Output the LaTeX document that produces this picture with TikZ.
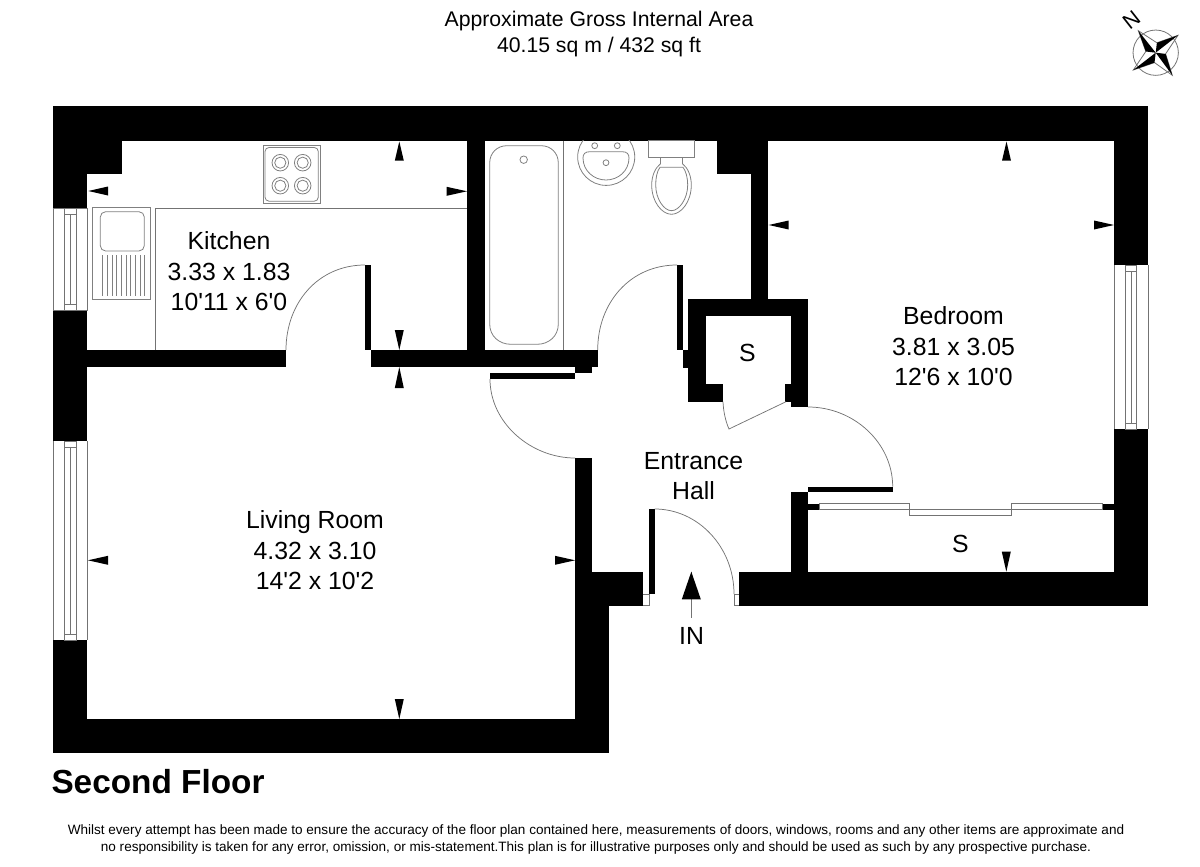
\documentclass[tikz,border=0pt]{standalone}
\usepackage{fontspec}
\setmainfont{Liberation Sans}
\newfontfamily\plainsans{Liberation Sans}
\newcommand{\wallrect}[4]{\fill[black] (#1,#2) rectangle (#3,#4);}
\tikzset{
  thinline/.style={draw=black!55,line width=0.6pt},
  arcline/.style={draw=black!55,line width=0.55pt},
  fixture/.style={draw=black!50,line width=0.6pt,fill=none},
  roomtext/.style={anchor=base,font=\plainsans\fontsize{18.6}{20}\selectfont,inner sep=0pt},
  titletext/.style={anchor=base,font=\plainsans\fontsize{15.9}{18}\selectfont,inner sep=0pt},
  foottext/.style={anchor=base,font=\plainsans\fontsize{10.16}{12}\selectfont,inner sep=0pt},
  floortext/.style={anchor=base,font=\fontsize{25}{28}\selectfont\bfseries,inner sep=0pt},
  dimmark/.style={fill=black,draw=none}
}
\begin{document}
\begin{tikzpicture}[x=0.75pt,y=-0.75pt]
\useasboundingbox (0,0) rectangle (1200,867);
% ---------- walls
\wallrect{53}{106}{1148}{140.6}
\wallrect{53}{106}{87}{208}
\wallrect{53}{106}{121.7}{174}
\wallrect{53}{310.7}{87}{441}
\wallrect{87}{350}{286}{367}
\wallrect{53}{640}{87}{753}
\wallrect{53}{719}{609}{753}
\wallrect{575}{572}{609}{753}
\wallrect{575}{458}{592}{606}
\wallrect{575}{571.7}{643}{605.7}
\wallrect{467}{140}{484.7}{350}
\wallrect{370.7}{350}{597.7}{367}
\wallrect{575}{367}{592}{373.3}
\wallrect{490}{373.3}{575}{379}
\wallrect{365}{265}{371}{350}
\wallrect{677}{265}{683}{350}
\wallrect{683}{350}{705.7}{367.7}
\wallrect{716.7}{140}{768}{174}
\wallrect{750.7}{140}{768}{299}
\wallrect{1114}{140}{1148}{265}
\wallrect{1114}{429}{1148}{606}
\wallrect{739.3}{571.7}{1148}{606}
\wallrect{688.3}{299}{808}{316}
\wallrect{688.3}{299}{705.7}{401.7}
\wallrect{688.3}{384}{723}{401.7}
\wallrect{790.7}{299}{808}{407}
\wallrect{785}{384}{791}{401.7}
\wallrect{790.7}{492}{808}{572}
\wallrect{808}{486.7}{892.7}{492.3}
\wallrect{808}{503.7}{819.3}{509.7}
\wallrect{1102.7}{503.7}{1114.3}{509.7}
\wallrect{649}{509}{654.7}{594.3}
% ---------- kitchen fittings
\draw[thinline] (155.3,350) -- (155.3,208.3) -- (467,208.3);
\draw[fixture] (263.3,145.7) rectangle (320,203);
\draw[fixture,rounded corners=3pt] (265,147.5) rectangle (318.3,201.2);
\foreach \bx/\by in {280.3/162.7,302.7/162.7,280.3/185.7,302.7/185.7}{
  \draw[fixture] (\bx,\by) circle[radius=6.2pt];
  \draw[fixture] (\bx,\by) circle[radius=4.2pt];
}
\draw[fixture] (92.3,207.3) rectangle (150,299.3);
\draw[fixture,rounded corners=4pt] (100.3,211.7) rectangle (144.3,251);
\foreach \dx in {102.5,107.2,...,146}{\draw[fixture] (\dx,255) -- (\dx,296);}
% ---------- bathroom fittings
\draw[thinline] (563.3,140.6) -- (563.3,350);
\draw[fixture] (507,145.7) -- (541,145.7) .. controls (551,145.7) and (558.3,153) .. (558.3,163)
  -- (558.3,324) .. controls (558.3,336) and (549,344.3) .. (537,344.3)
  -- (511,344.3) .. controls (499,344.3) and (489.7,336) .. (489.7,324)
  -- (489.7,163) .. controls (489.7,153) and (497,145.7) .. (507,145.7) -- cycle;
\draw[fixture] (523.7,159.7) circle[radius=2.8pt];
\begin{scope}
\clip (570,140.6) rectangle (640,190);
\draw[fixture] (606.2,157) ellipse[x radius=21.4pt,y radius=21.3pt];
\end{scope}
\draw[fixture] (590,151.7) -- (622,151.7) .. controls (627,151.7) and (629,154) .. (629,158)
  .. controls (629,171) and (618,180) .. (606,180)
  .. controls (594,180) and (583,171) .. (583,158)
  .. controls (583,154) and (585,151.7) .. (590,151.7) -- cycle;
\draw[fixture] (594.7,145.7) circle[radius=2.2pt];
\draw[fixture] (617.3,145.7) circle[radius=2.2pt];
\draw[fixture] (606,162.7) circle[radius=2.2pt];
\draw[fixture] (648.3,140.6) rectangle (694.7,157.3);
\draw[fixture] (660.7,157.3) -- (660.7,163.5);
\draw[fixture] (682.3,157.3) -- (682.3,163.5);
\draw[fixture] (660.7,163.5) .. controls (655,168) and (651.7,176) .. (651.7,185)
  .. controls (651.7,202) and (662,214.3) .. (671.5,214.3)
  .. controls (681,214.3) and (691.3,202) .. (691.3,185)
  .. controls (691.3,176) and (688,168) .. (682.3,163.5);
\draw[fixture] (660,167.3) -- (683,167.3) .. controls (686,171) and (687.7,178) .. (687.7,185)
  .. controls (687.7,199) and (679,210.7) .. (671.5,210.7)
  .. controls (664,210.7) and (655.7,199) .. (655.7,185)
  .. controls (655.7,178) and (657,171) .. (660,167.3) -- cycle;
% ---------- windows
\draw[thinline] (53,208) -- (53,310.7) (87,208) -- (87,310.7) (53,208) -- (87,208) (53,310.7) -- (87,310.7);
\draw[thinline] (64.3,208) rectangle (76,310.7);
\draw[thinline] (70.7,214) -- (70.7,304.7) (64.3,214) -- (76,214) (64.3,304.7) -- (76,304.7);
\draw[thinline] (53,441) -- (53,640) (87,441) -- (87,640);
\draw[thinline] (64.3,441) rectangle (76,640);
\draw[thinline] (70.7,447) -- (70.7,634) (64.3,447) -- (76,447) (64.3,634) -- (76,634);
\draw[thinline] (1114,265) -- (1114,429) (1148,265) -- (1148,429);
\draw[thinline] (1125,265) rectangle (1136.7,429);
\draw[thinline] (1131,271) -- (1131,423) (1125,271) -- (1136.7,271) (1125,423) -- (1136.7,423);
% ---------- doors
\draw[arcline] (286,350) .. controls (286,303) and (318,265) .. (365,265);
\draw[arcline] (597.7,350) .. controls (597.7,303) and (630,265) .. (677,265);
\draw[arcline] (490,379) .. controls (490,423) and (531,458) .. (575,458);
\draw[arcline] (654.7,509) .. controls (698,509) and (734,547) .. (734,594);
\draw[arcline] (808,407) .. controls (854,407) and (892.7,443) .. (892.7,486.7);
\draw[arcline] (723,401.7) .. controls (723.5,412) and (725.5,421) .. (729,429) -- (786,401.7);
\draw[thinline] (643,594) -- (649,594) -- (649,605.7) -- (643,605.7);
\draw[thinline] (739.3,594) -- (734,594) -- (734,605.7) -- (739.3,605.7);
% ---------- sliding wardrobe doors
\draw[thinline] (819.3,503.5) rectangle (909.3,509.5);
\draw[thinline] (909.3,509.5) rectangle (1011.7,515.3);
\draw[thinline] (1011.7,503.5) rectangle (1102.7,509.5);
% ---------- dimension marks
\fill[dimmark] (88.3,191) -- (108,186.5) -- (108,195.5) -- cycle;
\fill[dimmark] (399.3,141.5) -- (394.8,160.7) -- (403.8,160.7) -- cycle;
\fill[dimmark] (467,191.3) -- (446.7,186.8) -- (446.7,195.8) -- cycle;
\fill[dimmark] (399.3,350) -- (394.8,330) -- (403.8,330) -- cycle;
\fill[dimmark] (399.3,367) -- (394.8,388) -- (403.8,388) -- cycle;
\fill[dimmark] (88,560.3) -- (108,555.8) -- (108,564.8) -- cycle;
\fill[dimmark] (575,560.3) -- (555,555.8) -- (555,564.8) -- cycle;
\fill[dimmark] (399.3,719) -- (394.8,699) -- (403.8,699) -- cycle;
\fill[dimmark] (1006.5,141.5) -- (1002,160.7) -- (1011,160.7) -- cycle;
\fill[dimmark] (768.7,225) -- (788.7,220.5) -- (788.7,229.5) -- cycle;
\fill[dimmark] (1114,225) -- (1094,220.5) -- (1094,229.5) -- cycle;
\fill[dimmark] (1006.3,571.7) -- (1001.8,551.7) -- (1010.8,551.7) -- cycle;
% ---------- entry arrow
\coordinate (intip) at (691.3,571.7);
\coordinate (intail) at (691.3,618);
\draw[thinline] (intip) -- (intail);
\fill[black] (intip) -- (681.8,599.3) -- (700.8,599.3) -- cycle;
% ---------- text
\node[titletext] (t1) at (599,27) {Approximate Gross Internal Area};
\node[titletext] (t2) at (599,53) {40.15 sq m / 432 sq ft};
\node[roomtext] (k1) at (229,249.3) {Kitchen};
\node[roomtext] (k2) at (229,280) {3.33 x 1.83};
\node[roomtext] (k3) at (229,310.7) {10'11 x 6'0};
\node[roomtext] (b1) at (953.5,324.5) {Bedroom};
\node[roomtext] (b2) at (953.5,355) {3.81 x 3.05};
\node[roomtext] (b3) at (953.5,385) {12'6 x 10'0};
\node[roomtext] (l1) at (315,528.5) {Living Room};
\node[roomtext] (l2) at (315,559) {4.32 x 3.10};
\node[roomtext] (l3) at (315,589) {14'2 x 10'2};
\node[roomtext] (e1) at (693.5,469) {Entrance};
\node[roomtext] (e2) at (693.5,499.5) {Hall};
\node[roomtext] (s1) at (747.5,361) {S};
\node[roomtext] (s2) at (960.5,552.5) {S};
\node[roomtext] (in) at (691.5,644) {IN};
\node[floortext] (fl) at (158,793) {Second Floor};
\node[foottext] (f1) at (596,834) {Whilst every attempt has been made to ensure the accuracy of the floor plan contained here, measurements of doors, windows, rooms and any other items are approximate and};
\node[foottext] (f2) at (596,851) {no responsibility is taken for any error, omission, or mis-statement.This plan is for illustrative purposes only and should be used as such by any prospective purchase.};
% ---------- compass
\coordinate (cc) at (1155.7,52.7);
\draw[thinline] (cc) circle[radius=17pt];
\coordinate (tnw) at (1138.3,30.7);
\coordinate (tne) at (1178,35.3);
\coordinate (tse) at (1172.3,75.3);
\coordinate (tsw) at (1133.3,70);
\coordinate (iu) at (1156.9,42.8);
\coordinate (ir) at (1165.6,53.9);
\coordinate (id) at (1154.5,62.6);
\coordinate (il) at (1145.8,51.5);
\draw[thinline] (tnw) -- (iu) -- (tne) -- (ir) -- (tse) -- (id) -- (tsw) -- (il) -- cycle;
\fill[black] (cc) -- (tnw) -- (il) -- cycle;
\fill[black] (cc) -- (tne) -- (iu) -- cycle;
\fill[black] (cc) -- (tse) -- (ir) -- cycle;
\fill[black] (cc) -- (tsw) -- (id) -- cycle;
\node[anchor=center,inner sep=0pt,rotate=38,font=\plainsans\fontsize{16}{17}\selectfont] (north) at (1131.5,20) {N};
\end{tikzpicture}
\end{document}
